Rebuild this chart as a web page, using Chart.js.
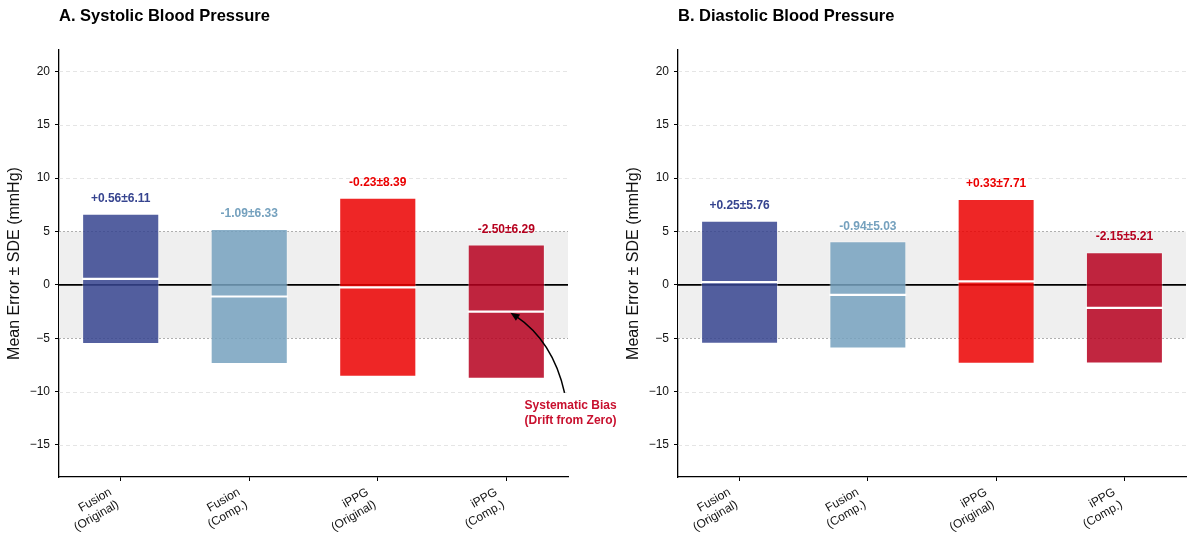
<!DOCTYPE html>
<html>
<head>
<meta charset="utf-8">
<script src="https://cdn.jsdelivr.net/npm/chart.js@4/dist/chart.umd.min.js"></script>
<style>
  html, body { margin: 0; padding: 0; background: #fff; }
  #wrap { position: relative; width: 1188px; height: 535px; overflow: hidden; }
  canvas { position: absolute; top: 0; }
</style>
</head>
<body>
<div id="wrap">
  <canvas id="sbp" width="619" height="535" style="left:0"></canvas>
  <canvas id="dbp" width="569" height="535" style="left:619px"></canvas>
</div>
<script>
// Methods compared
const categories = ['Fusion\n(Original)', 'Fusion\n(Comp.)', 'iPPG\n(Original)', 'iPPG\n(Comp.)'];

// Systolic: mean error and standard deviation of error (mmHg)
const systolicMean = [0.56, -1.09, -0.23, -2.50];
const systolicSDE  = [6.11, 6.33, 8.39, 6.29];

// Diastolic: mean error and standard deviation of error (mmHg)
const diastolicMean = [0.25, -0.94, 0.33, -2.15];
const diastolicSDE  = [5.76, 5.03, 7.71, 5.21];

// Y axis ticks and the ±5 mmHg acceptance band
const yTicks = [-15, -10, -5, 0, 5, 10, 15, 20];
const bandLimit = 5;

// Per-method colours (bars are drawn slightly translucent)
const barFill   = ['rgba(54,68,143,0.85)', 'rgba(117,161,190,0.85)', 'rgba(235,0,0,0.85)', 'rgba(182,0,30,0.85)'];
const labelInk  = ['#36448F', '#75A1BE', '#EB0000', '#B6001E'];

const FONT = "'Liberation Sans', Arial, 'DejaVu Sans', sans-serif";
Chart.defaults.font.family = FONT;
Chart.defaults.color = '#111';

const fmt = (m, s) => (m >= 0 ? '+' : '') + m.toFixed(2) + '\u00B1' + s.toFixed(2);

const panelPlugin = {
  id: 'panel',
  beforeDatasetsDraw(chart) {
    const { ctx, chartArea: a, scales: { y } } = chart;
    ctx.save();
    // acceptance band
    const bTop = y.getPixelForValue(bandLimit), bBot = y.getPixelForValue(-bandLimit);
    ctx.fillStyle = '#EFEFEF';
    ctx.fillRect(a.left, bTop, a.right - a.left, bBot - bTop);
    // horizontal grid
    yTicks.forEach(v => {
      if (v === 0) return;
      const py = Math.round(y.getPixelForValue(v)) + 0.5;
      if (Math.abs(v) === bandLimit) {
        ctx.setLineDash([2, 2]); ctx.strokeStyle = '#A8A8A8'; ctx.lineWidth = 0.9;
      } else {
        ctx.setLineDash([4, 3]); ctx.strokeStyle = '#DEDEDE'; ctx.lineWidth = 0.8;
      }
      ctx.beginPath(); ctx.moveTo(a.left, py); ctx.lineTo(a.right, py); ctx.stroke();
    });
    // zero reference
    ctx.setLineDash([]);
    ctx.strokeStyle = '#000'; ctx.lineWidth = 1.6;
    const pz = y.getPixelForValue(0);
    ctx.beginPath(); ctx.moveTo(a.left, pz); ctx.lineTo(a.right, pz); ctx.stroke();
    ctx.restore();
  },
  afterDatasetsDraw(chart, args, opts) {
    const { ctx, scales: { x, y } } = chart;
    ctx.save();
    // value labels above each bar
    ctx.font = 'bold 12px ' + FONT;
    ctx.textAlign = 'center';
    ctx.textBaseline = 'middle';
    opts.means.forEach((m, i) => {
      const top = y.getPixelForValue(m + opts.sde[i]);
      ctx.fillStyle = labelInk[i];
      ctx.fillText(fmt(m, opts.sde[i]), x.getPixelForValue(i), top - 15);
    });
    // optional callout
    const ann = opts.annotation;
    if (ann) {
      const tx = x.getPixelForValue(ann.textAt[0]);
      const ty = y.getPixelForValue(ann.textAt[1]);
      const lh = 14.5;
      ctx.fillStyle = ann.color;
      ann.lines.forEach((t, k) => ctx.fillText(t, tx, ty - lh / 2 + k * lh));
      const sx = tx - 6, sy = ty - 20;
      let ex = x.getPixelForValue(ann.target[0]), ey = y.getPixelForValue(ann.target[1]);
      // curved connector (arc-like quadratic)
      const dx = ex - sx, dy = ey - sy;
      const cx = (sx + ex) / 2 - ann.rad * dy, cy = (sy + ey) / 2 + ann.rad * dx;
      // pull the tip back slightly from the target
      let tdx = ex - cx, tdy = ey - cy; const tl = Math.hypot(tdx, tdy);
      tdx /= tl; tdy /= tl;
      ex -= tdx * 2; ey -= tdy * 2;
      ctx.strokeStyle = '#000'; ctx.lineWidth = 1.5;
      ctx.beginPath(); ctx.moveTo(sx, sy);
      ctx.quadraticCurveTo(cx, cy, ex - tdx * 6, ey - tdy * 6);
      ctx.stroke();
      // arrow head
      const hl = 9, hw = 3.8;
      ctx.fillStyle = '#000';
      ctx.beginPath();
      ctx.moveTo(ex, ey);
      ctx.lineTo(ex - tdx * hl - tdy * hw, ey - tdy * hl + tdx * hw);
      ctx.lineTo(ex - tdx * hl + tdy * hw, ey - tdy * hl - tdx * hw);
      ctx.closePath(); ctx.fill();
    }
    ctx.restore();
  },
  afterDraw(chart, args, opts) {
    const { ctx, chartArea: a } = chart;
    ctx.save();
    ctx.font = 'bold 16.5px ' + FONT;
    ctx.fillStyle = '#000';
    ctx.textAlign = 'left';
    ctx.textBaseline = 'middle';
    ctx.fillText(opts.title, a.left, 16.5);
    ctx.restore();
  }
};

function halfBar(chart) {
  const x = chart.scales.x;
  return Math.abs(x.getPixelForValue(0.3) - x.getPixelForValue(0));
}

function makePanel(id, title, means, sde, rightPad, annotation) {
  return new Chart(document.getElementById(id), {
    type: 'bar',
    data: {
      datasets: [
        {
          type: 'scatter',
          data: means.map((m, i) => ({ x: i, y: m })),
          pointStyle: 'line',
          pointRadius: ctx => halfBar(ctx.chart),
          pointBorderColor: '#FFFFFF',
          borderColor: '#FFFFFF',
          pointBorderWidth: 2.2,
          order: 0
        },
        {
          type: 'bar',
          data: means.map((m, i) => ({ x: i, y: [m - sde[i], m + sde[i]] })),
          backgroundColor: barFill,
          borderColor: 'rgba(255,255,255,0.35)',
          borderWidth: 1,
          borderSkipped: false,
          barPercentage: 0.6,
          categoryPercentage: 1.0,
          order: 1
        }
      ]
    },
    options: {
      responsive: false,
      animation: false,
      devicePixelRatio: 1,
      events: [],
      layout: { padding: { top: 50, right: rightPad, bottom: 0, left: 0 } },
      plugins: {
        legend: { display: false },
        tooltip: { enabled: false },
        title: { display: false },
        panel: { title, means, sde, annotation }
      },
      scales: {
        x: {
          type: 'linear',
          min: -0.48,
          max: 3.48,
          offset: false,
          afterBuildTicks: s => { s.ticks = categories.map((_, i) => ({ value: i })); },
          afterFit: s => { s.height = 58; },
          ticks: {
            autoSkip: false,
            minRotation: 30,
            maxRotation: 30,
            padding: 4,
            labelOffset: -10,
            font: { size: 12 },
            color: '#111',
            callback: v => categories[v] ? categories[v].split('\n') : ''
          },
          grid: { offset: false, drawOnChartArea: false, drawTicks: true, tickLength: 4, tickColor: '#000', tickWidth: 1 },
          border: { display: true, color: '#000', width: 1.3 }
        },
        y: {
          min: -18,
          max: 22,
          afterBuildTicks: s => { s.ticks = yTicks.map(v => ({ value: v })); },
          afterFit: s => { s.width = 59; },
          ticks: {
            padding: 5,
            font: { size: 12 },
            color: '#111',
            callback: v => String(v).replace('-', '\u2212')
          },
          title: {
            display: true,
            text: 'Mean Error \u00B1 SDE (mmHg)',
            font: { size: 16 },
            color: '#111',
            padding: { top: 5, bottom: 0 }
          },
          grid: { drawOnChartArea: false, drawTicks: true, tickLength: 4, tickColor: '#000', tickWidth: 1 },
          border: { display: true, color: '#000', width: 1.3 }
        }
      }
    },
    plugins: [panelPlugin]
  });
}

makePanel('sbp', 'A. Systolic Blood Pressure', systolicMean, systolicSDE, 51, {
  lines: ['Systematic Bias', '(Drift from Zero)'],
  textAt: [3.5, -12],
  target: [3.02, -2.5],
  rad: 0.2,
  color: '#C8102E'
});
makePanel('dbp', 'B. Diastolic Blood Pressure', diastolicMean, diastolicSDE, 2, null);
</script>
</body>
</html>
